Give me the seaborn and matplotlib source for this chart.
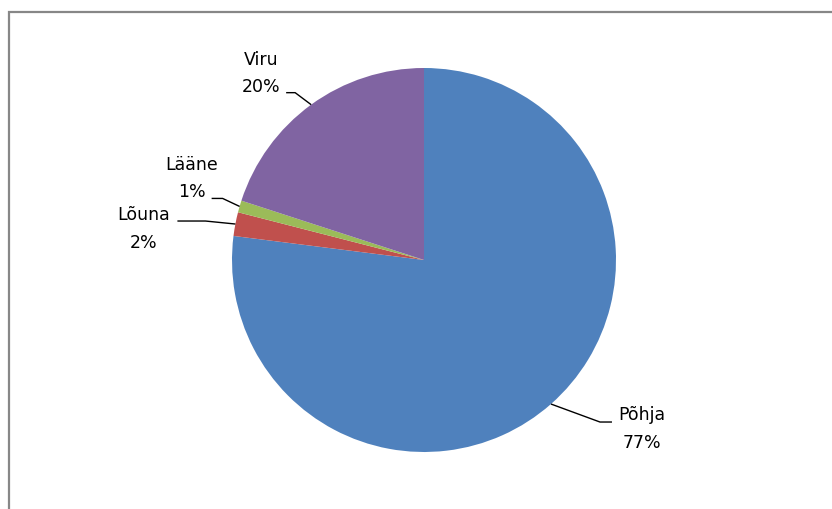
import numpy as np
import matplotlib
matplotlib.use("Agg")
import matplotlib.pyplot as plt
from matplotlib.patches import Rectangle
import seaborn as sns

sns.set_theme(style="white")
plt.rcParams["font.family"] = ["DejaVu Sans"]

# Regional shares, drawn clockwise from 12 o'clock
regions = ["Põhja", "Lõuna", "Lääne", "Viru"]
shares = [77, 2, 1, 20]
colors = ["#4F81BD", "#C0504D", "#9BBB59", "#8064A2"]

# Leader-line geometry per label, in pixels relative to the wedge edge point:
# (elbow dx, elbow dy, end dx, end dy, text dx, text dy)
leader = {
    "Viru":  (-16, -12, -25, -12, -50, -31),
    "Lääne": (-17, -8, -28, -8, -48, -28),
    "Lõuna": (-30, -3, -58, -3, -92, 5),
    "Põhja": (49, 18, 61, 18, 91, 25),
}

W, H, DPI = 832, 509, 100
R_PX = 192.0          # pie radius in pixels
CX, CY = 424, 260     # pie centre in pixels

fig = plt.figure(figsize=(W / DPI, H / DPI), dpi=DPI)
fig.patch.set_facecolor("white")
ax = fig.add_axes([0, 0, 1, 1])

wedges, _ = ax.pie(shares, colors=colors, startangle=90, counterclock=False,
                   radius=1.0, center=(0, 0),
                   wedgeprops=dict(linewidth=0, antialiased=True))

# pixel-exact data window: 1 data unit == R_PX pixels on both axes
ax.set_xlim(-CX / R_PX, (W - CX) / R_PX)
ax.set_ylim((CY - H) / R_PX, CY / R_PX)
ax.set_aspect("auto")
ax.axis("off")

for w, name, val in zip(wedges, regions, shares):
    mid = np.deg2rad((w.theta1 + w.theta2) / 2)
    ax0, ay0 = np.cos(mid), np.sin(mid)
    ex, ey, lx, ly, tx, ty = leader[name]
    px = lambda d: d / R_PX
    xs = [ax0, ax0 + px(ex), ax0 + px(lx)]
    ys = [ay0, ay0 - px(ey), ay0 - px(ly)]
    ax.plot(xs, ys, color="black", lw=1.0, solid_capstyle="butt", zorder=3)
    ax.text(ax0 + px(tx), ay0 - px(ty), f"{name}\n{val}%",
            ha="center", va="center", multialignment="center",
            fontsize=12.5, color="black", linespacing=1.68, zorder=4)

# Chart-area frame (runs off the right and bottom edges)
fig.patches.append(Rectangle((9 / W, -0.05), 1.1, 1.05 - 12 / H,
                             transform=fig.transFigure, fill=False,
                             edgecolor="#878787", linewidth=1.6))

fig.savefig("out.png", dpi=DPI, facecolor="white")
